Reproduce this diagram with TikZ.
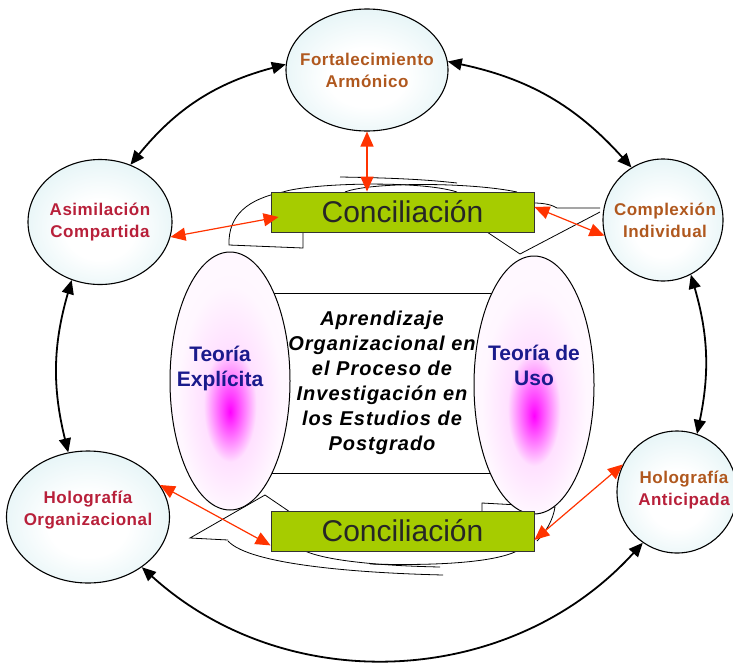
\documentclass[tikz,border=0pt]{standalone}
\usepackage{fontspec}
\setmainfont{Liberation Sans}
\usetikzlibrary{shapes.geometric,arrows.meta}
\definecolor{bubbleedge}{RGB}{204,234,238}
\definecolor{concgreen}{RGB}{166,204,0}
\definecolor{redarrow}{RGB}{255,51,0}
\definecolor{browntxt}{RGB}{176,88,30}
\definecolor{crimsontxt}{RGB}{184,32,58}
\definecolor{navytxt}{RGB}{26,26,140}
\pgfdeclareradialshading{bubble}{\pgfpoint{0bp}{-4bp}}{color(0bp)=(white);color(12bp)=(white);color(44bp)=(bubbleedge);color(50bp)=(bubbleedge)}
\pgfdeclareradialshading{glow}{\pgfpoint{0bp}{-6bp}}{color(0bp)=(magenta);color(3bp)=(magenta!75!white);color(11bp)=(magenta!12!white);color(22bp)=(magenta!3!white);color(50bp)=(magenta!2!white)}

\begin{document}
\begin{tikzpicture}[x=1pt,y=-1pt,
  bubble/.style={ellipse,draw=black,line width=1.1pt,shading=bubble,inner sep=0pt},
  bubtxt/.style={align=center,font=\bfseries\fontsize{17}{22}\selectfont\addfontfeature{LetterSpace=3}},
  teoria/.style={ellipse,draw=black,line width=1pt,shading=glow,minimum width=120pt,minimum height=258pt,inner sep=0pt},
  teotxt/.style={align=center,text=navytxt,font=\bfseries\fontsize{21}{25}\selectfont},
  concbox/.style={draw=black!80,line width=0.8pt,fill=concgreen,minimum width=263pt,minimum height=40pt,
    inner sep=0pt,text=black!85,font=\fontsize{30}{30}\selectfont},
  linkarr/.style={{Triangle[length=14pt,width=12pt]}-{Triangle[length=14pt,width=12pt]},line width=1.8pt},
  redarr/.style={{Triangle[length=15pt,width=13pt]}-{Triangle[length=15pt,width=13pt]},draw=redarrow,line width=1.2pt},
  deco/.style={line width=0.8pt}]
  \useasboundingbox (0,0) rectangle (733,664);

  % loose outlines round the two boxes
  \draw[deco] (303,232) -- (303,248) -- (229,245) .. controls (228,215) and (248,199) .. (283,192);
  \draw[deco] (283,192) .. controls (310,183) and (420,180) .. (457,192);
  \draw[deco] (345,192) .. controls (370,182) and (470,182) .. (517,192);
  \draw[deco] (340,177) .. controls (400,178) and (430,180) .. (457,183);
  \draw[deco] (487,232) -- (520,254) -- (600,212);
  \draw[deco] (533,203) .. controls (545,203) and (552,205) .. (557,208) -- (600,208);
  \draw[deco] (265,495) -- (290,512);
  \draw[deco] (265,495) -- (190,538) -- (228,540);
  \draw[deco] (228,541) .. controls (250,565) and (360,573) .. (443,575);
  \draw[deco] (305,551) .. controls (330,562) and (390,566) .. (440,567);
  \draw[deco] (370,564) .. controls (440,566) and (495,562) .. (517,551);
  \draw[deco] (482,511) -- (482,503) -- (555,507) .. controls (553,520) and (546,532) .. (537,541);

  % centre
  \node[draw,line width=1pt,minimum width=220pt,minimum height=180pt,inner sep=0pt,align=center,
    font=\bfseries\itshape\fontsize{20}{25}\selectfont\addfontfeature{LetterSpace=5}] (marco) at (382,383)
    {Aprendizaje\\Organizacional en\\el Proceso de\\Investigación en\\los Estudios de\\Postgrado};
  \node[teoria] (teoE) at (230,381) {};
  \node[teotxt] (teoEtxt) at ([xshift=-10pt,yshift=13pt]teoE.center) {Teoría\\Explícita};
  \node[teoria] (teoU) at (534,385) {};
  \node[teotxt] (teoUtxt) at ([yshift=20pt]teoU.center) {Teoría de\\Uso};

  \node[concbox] (concT) at (402.5,212) {Conciliación};
  \node[concbox] (concB) at (402.5,531) {Conciliación};

  % outer ring
  \node[bubble,minimum width=162pt,minimum height=122pt,
    label={[bubtxt,text=browntxt]center:Fortalecimiento\\Armónico}] (fort) at (367,70) {};
  \node[bubble,minimum width=144pt,minimum height=125pt,
    label={[bubtxt,text=crimsontxt]center:Asimilación\\Compartida}] (asim) at (100,222) {};
  \node[bubble,minimum width=120pt,minimum height=122pt,
    label={[bubtxt,text=browntxt,xshift=2pt]center:Complexión\\Individual}] (comp) at (663,220) {};
  \node[bubble,minimum width=163pt,minimum height=132pt,
    label={[bubtxt,text=crimsontxt,yshift=7pt]center:Holografía\\Organizacional}] (horg) at (88,517) {};
  \node[bubble,minimum width=120pt,minimum height=122pt,
    label={[bubtxt,xshift=7pt,yshift=2pt]center:\textcolor{browntxt}{Holografía}\\\textcolor{crimsontxt}{Anticipada}}] (hant) at (677,492) {};

  \draw[linkarr] (asim.62) to[bend left=18] (fort.176);
  \draw[linkarr] (fort.6) to[bend left=18] (comp.121);
  \draw[linkarr] (asim.244) to[bend right=15] (horg.107);
  \draw[linkarr] (comp.297) to[bend left=14] (hant.71);
  \draw[linkarr] (horg.317) to[bend right=45] (hant.236);

  \draw[redarr] (fort.south) -- (fort.south |- concT.north);
  \draw[redarr] (asim.-12) -- ([xshift=8pt,yshift=-5pt]concT.west);
  \draw[redarr] (comp.195) -- ([yshift=5pt]concT.east);
  \draw[redarr] (horg.24) -- ([yshift=6pt]concB.south west);
  \draw[redarr] (hant.153) -- ([yshift=-9pt]concB.east);
\end{tikzpicture}
\end{document}
